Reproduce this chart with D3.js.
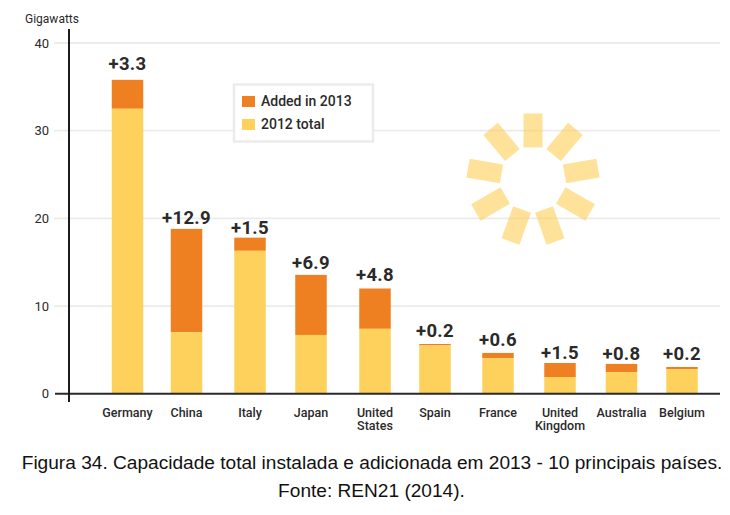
<!DOCTYPE html>
<html><head><meta charset="utf-8">
<script src="https://cdn.jsdelivr.net/npm/d3@7"></script>
<style>html,body{margin:0;padding:0;background:#fff}svg{display:block}</style>
</head><body><svg id="c" width="730" height="515"></svg>
<script>
const categories=[["Germany"],["China"],["Italy"],["Japan"],["United","States"],["Spain"],["France"],["United","Kingdom"],["Australia"],["Belgium"]];
const total2012=[32.5,7.0,16.3,6.7,7.4,5.5,4.05,1.9,2.45,2.8];
const total2013=[35.8,18.8,17.8,13.55,12.0,5.67,4.65,3.5,3.4,3.05];
const addedLabels=["3.3","12.9","1.5","6.9","4.8","0.2","0.6","1.5","0.8","0.2"];
const yTicks=[0,10,20,30,40];
const sunAngles=[0,40,80,120,160,200,240,280,320];
const legendItems=["Added in 2013","2012 total"];

const svg=d3.select("#c");
const sans="Roboto,'Noto Sans',sans-serif";
const ink="#2a2a2a",grid="#ebebeb",orange="#ee8022",yellow="#fed15c";
const y=d3.scaleLinear().domain([0,40]).range([393.7,43]);
const names=categories.map(d=>d.join(" "));
const x=d3.scaleOrdinal().domain(names).range([127.5,186.5,250,311,375,435,498,560,621.5,682]);
const barW=31.5;
const labelGap=d3.scaleOrdinal().domain(names).range([10,5,4,6,7,7,7,4,4,7]);

svg.append("g").selectAll("line").data(yTicks.filter(d=>d>0)).join("line")
  .attr("x1",54).attr("x2",720).attr("y1",d=>y(d)).attr("y2",d=>y(d))
  .attr("stroke",grid).attr("stroke-width",1.8);
svg.append("g").selectAll("text").data(yTicks).join("text")
  .attr("x",49).attr("y",d=>y(d)+4.5).attr("text-anchor","end")
  .attr("font-family",sans).attr("font-size",13).attr("fill",ink).text(d=>d);
svg.append("text").attr("x",25).attr("y",23).attr("font-family",sans)
  .attr("font-size",12).attr("fill",ink).text("Gigawatts");

const sun=svg.append("g").attr("transform","translate(533,179.5)");
sun.selectAll("rect").data(sunAngles).join("rect")
  .attr("x",-9.5).attr("y",-66).attr("width",19).attr("height",34)
  .attr("fill",yellow).attr("fill-opacity",0.62)
  .attr("transform",d=>`rotate(${d})`);

const g=svg.append("g");
g.selectAll("rect.a").data(names).join("rect").attr("class","a")
  .attr("x",d=>x(d)-barW/2).attr("width",barW)
  .attr("y",(d,i)=>y(total2013[i])).attr("height",(d,i)=>y(total2012[i])-y(total2013[i]))
  .attr("fill",orange);
g.selectAll("rect.b").data(names).join("rect").attr("class","b")
  .attr("x",d=>x(d)-barW/2).attr("width",barW)
  .attr("y",(d,i)=>y(total2012[i])).attr("height",(d,i)=>y(0)-y(total2012[i]))
  .attr("fill",yellow);

g.selectAll("text.v").data(names).join("text").attr("class","v")
  .attr("x",d=>x(d))
  .attr("y",(d,i)=>y(total2013[i])-labelGap(d))
  .attr("text-anchor","middle").attr("font-family",sans).attr("font-weight",700)
  .attr("font-size",18.5).attr("letter-spacing",0.3).attr("fill",ink).text((d,i)=>"+"+addedLabels[i]);

const cat=g.selectAll("text.c").data(categories).join("text").attr("class","c")
  .attr("text-anchor","middle").attr("font-family",sans).attr("font-size",12.5)
  .attr("font-weight",500).attr("fill",ink);
cat.selectAll("tspan").data((d,i)=>d.map(t=>({t,i}))).join("tspan")
  .attr("x",d=>x(names[d.i]))
  .attr("y",(d,j)=>417+j*12.7).text(d=>d.t);

svg.append("line").attr("x1",55).attr("x2",720).attr("y1",y(0)).attr("y2",y(0)).attr("stroke",ink).attr("stroke-width",2);
svg.append("line").attr("x1",69).attr("x2",69).attr("y1",29).attr("y2",402).attr("stroke","#1c1c1c").attr("stroke-width",2);

svg.append("rect").attr("x",234).attr("y",84.5).attr("width",139).attr("height",57)
  .attr("fill","#fff").attr("stroke",grid).attr("stroke-width",2.4);
const leg=svg.append("g").selectAll("g").data(legendItems).join("g")
  .attr("transform",(d,i)=>`translate(242,${96+i*23})`);
leg.append("rect").attr("width",13).attr("height",11).attr("fill",(d,i)=>i?yellow:orange);
leg.append("text").attr("x",19).attr("y",10).attr("font-family",sans).attr("font-size",14)
  .attr("font-weight",500).attr("fill",ink).text(d=>d);

const cap=svg.append("g").attr("font-family","'Liberation Sans',Arial,sans-serif").attr("font-size",19.1)
  .attr("fill","#111").attr("text-anchor","middle");
cap.append("text").attr("x",372).attr("y",469).text("Figura 34. Capacidade total instalada e adicionada em 2013 - 10 principais países.");
cap.append("text").attr("x",371.5).attr("y",497).text("Fonte: REN21 (2014).");
</script></body></html>
